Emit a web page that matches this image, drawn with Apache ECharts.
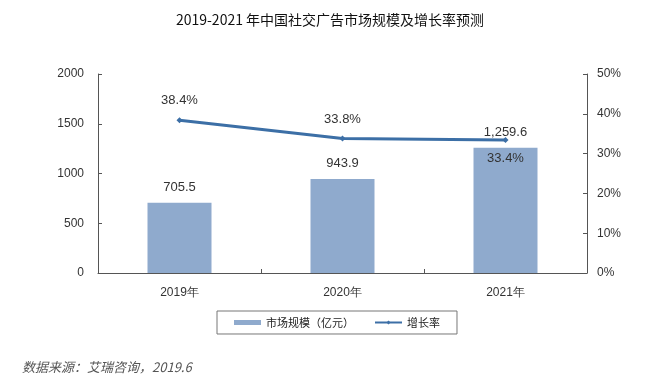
<!DOCTYPE html>
<html><head><meta charset="utf-8">
<script src="https://cdn.jsdelivr.net/npm/echarts@6/dist/echarts.min.js"></script>
<style>html,body{margin:0;padding:0;background:#fff}#c{width:660px;height:385px}</style>
</head><body><div id="c"></div>
<script>
const categories = ['2019年', '2020年', '2021年'];
const marketSize = [705.5, 943.9, 1259.6];
const growthRate = [38.4, 33.8, 33.4];
const leftTicks = [0, 500, 1000, 1500, 2000];
const rightTicks = [0, 10, 20, 30, 40, 50];

const chart = echarts.init(document.getElementById('c'));
const axisFont = {color: '#333', fontSize: 12, fontFamily: 'Liberation Sans, Arial, sans-serif'};
chart.setOption({
  animation: false,
  title: {
    text: '2019-2021 年中国社交广告市场规模及增长率预测',
    left: 'center', top: 8,
    textStyle: {fontFamily: 'Noto Sans CJK SC', fontSize: 14, fontWeight: 'normal', color: '#111'}
  },
  graphic: [{
    type: 'text', left: 22, top: 361,
    style: {text: '数据来源：艾瑞咨询，2019.6', font: 'italic 13px "Noto Sans CJK SC"', fill: '#555'}
  }],
  legend: {
    orient: 'horizontal', left: 217, top: 311,
    padding: [6, 17, 6, 17],
    itemGap: 20,
    borderColor: '#777', borderWidth: 1,
    itemWidth: 27, itemHeight: 5,
    textStyle: {fontFamily: 'Noto Sans CJK SC', fontSize: 11, color: '#222'},
    data: [{name: '市场规模（亿元）', icon: 'rect'}, {name: '增长率'}]
  },
  grid: {left: 98, right: 73, top: 74, bottom: 112},
  xAxis: {
    type: 'category', data: categories,
    axisLine: {lineStyle: {color: '#555', width: 1}},
    axisTick: {show: true, inside: true, length: 4, lineStyle: {color: '#555'}},
    axisLabel: Object.assign({margin: 14}, axisFont)
  },
  yAxis: [{
    type: 'value', min: 0, max: 2000, interval: 500,
    axisLine: {show: true, lineStyle: {color: '#555'}},
    axisTick: {show: true, inside: true, length: 4, lineStyle: {color: '#555'}},
    splitLine: {show: false},
    axisLabel: Object.assign({margin: 14, formatter: v => String(v)}, axisFont)
  }, {
    type: 'value', min: 0, max: 50, interval: 10,
    axisLine: {show: true, lineStyle: {color: '#555'}},
    axisTick: {show: true, inside: true, length: 4, lineStyle: {color: '#555'}},
    splitLine: {show: false},
    axisLabel: Object.assign({margin: 10, formatter: '{value}%'}, axisFont)
  }],
  series: [{
    name: '市场规模（亿元）', type: 'bar', data: marketSize, barWidth: 64,
    itemStyle: {color: '#8faacd'},
    label: {show: true, position: 'top', distance: 9, color: '#333', fontSize: 13,
      fontFamily: 'Liberation Sans, Arial, sans-serif',
      formatter: p => p.value.toLocaleString('en-US', {minimumFractionDigits: 1, maximumFractionDigits: 1})}
  }, {
    name: '增长率', type: 'line', yAxisIndex: 1, data: growthRate.map((v, i) => ({
      value: v,
      label: {position: i === 2 ? 'bottom' : 'top', distance: i === 2 ? 9 : 10}
    })),
    symbol: 'diamond', symbolSize: 6,
    lineStyle: {color: '#3c6fa6', width: 3},
    itemStyle: {color: '#3c6fa6'},
    label: {show: true, color: '#333', fontSize: 13, fontFamily: 'Liberation Sans, Arial, sans-serif',
      formatter: p => p.value.toFixed(1) + '%'}
  }]
});
</script></body></html>
